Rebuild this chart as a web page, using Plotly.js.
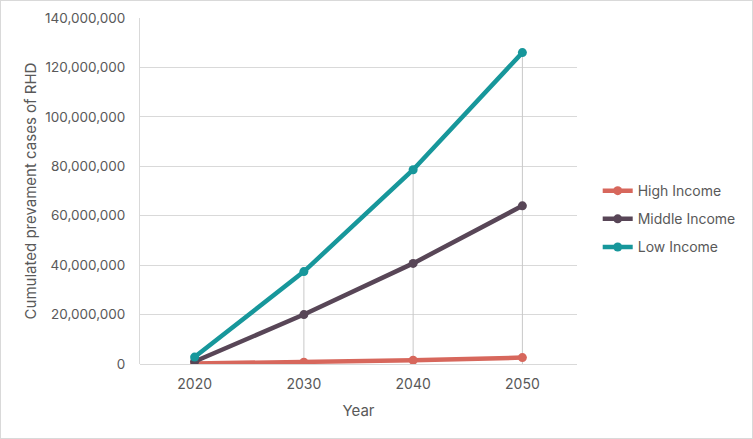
<!DOCTYPE html>
<html>
<head>
<meta charset="utf-8">
<script src="https://cdn.plot.ly/plotly-3.0.1.min.js"></script>
<style>
html,body{margin:0;padding:0;background:#fff;}
#chart{width:753px;height:439px;box-sizing:border-box;border:1px solid #d9d9d9;}
</style>
</head>
<body>
<div id="chart"></div>
<script>
const years = ["2020", "2030", "2040", "2050"];
const highIncome = [200000, 700000, 1500000, 2600000];
const middleIncome = [1000000, 20000000, 40700000, 64000000];
const lowIncome = [2800000, 37400000, 78600000, 126000000];
const seriesNames = ["High Income", "Middle Income", "Low Income"];
const seriesColors = ["#D7675C", "#584657", "#17979B"];
const yTicks = [0, 20000000, 40000000, 60000000, 80000000, 100000000, 120000000, 140000000];

const allSeries = [highIncome, middleIncome, lowIncome];

// drop lines from the highest point of each category down to the axis
const dropX = [], dropY = [];
years.forEach((yr, j) => {
  dropX.push(yr, yr, null);
  dropY.push(0, Math.max(...allSeries.map(s => s[j])), null);
});
const dropTrace = {
  type: "scatter", mode: "lines",
  x: dropX, y: dropY,
  line: {color: "#c8c8c8", width: 1},
  showlegend: false, hoverinfo: "skip", connectgaps: false
};

const traces = [dropTrace].concat(allSeries.map((vals, i) => ({
  type: "scatter",
  mode: "lines+markers",
  x: years,
  y: vals,
  name: seriesNames[i],
  legendgroup: "g" + i,
  line: {color: seriesColors[i], width: 4.5},
  marker: {color: seriesColors[i], size: 9},
  hoverinfo: "x+y+name"
})));

const font = "Inter, 'Open Sans', 'Liberation Sans', sans-serif";

const layout = {
  width: 751, height: 437,
  margin: {l: 139, r: 174, t: 17, b: 74},
  paper_bgcolor: "#ffffff",
  plot_bgcolor: "#ffffff",
  font: {family: font, color: "#595959", size: 14},
  showlegend: true,
  legend: {
    x: 1.045, y: 0.419, xanchor: "left", yanchor: "middle",
    font: {family: font, size: 14, color: "#595959"},
    tracegroupgap: 7,
    itemwidth: 30,
    bgcolor: "rgba(0,0,0,0)"
  },
  xaxis: {
    type: "category",
    range: [-0.5, 3.5],
    showgrid: false,
    showline: false,
    zeroline: false,
    ticks: "",
    ticklabelstandoff: 10,
    tickfont: {family: font, size: 14, color: "#595959"},
    title: {text: "Year", font: {family: font, size: 15, color: "#595959"}, standoff: 14},
    fixedrange: true
  },
  yaxis: {
    range: [0, 140000000],
    tickvals: yTicks,
    tickformat: ",d",
    showgrid: true,
    gridcolor: "#d9d9d9",
    gridwidth: 1,
    zeroline: true,
    zerolinecolor: "#d9d9d9",
    zerolinewidth: 1,
    showline: true,
    linecolor: "#d9d9d9",
    linewidth: 1,
    ticks: "",
    ticklabelstandoff: 11,
    tickfont: {family: font, size: 13.5, color: "#595959"},
    title: {text: "Cumulated prevament cases of RHD", font: {family: font, size: 15, color: "#595959"}, standoff: 4},
    fixedrange: true
  }
};

Plotly.newPlot("chart", traces, layout, {displayModeBar: false, staticPlot: true});
</script>
</body>
</html>
